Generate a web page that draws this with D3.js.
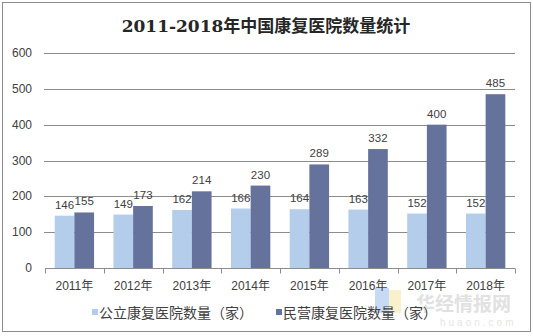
<!DOCTYPE html>
<html><head><meta charset="utf-8">
<script src="https://cdn.jsdelivr.net/npm/d3@7"></script>
<style>body{margin:0;background:#fff}svg{display:block}</style>
</head><body><svg id="c" width="533" height="336"></svg>
<script>
const title = "2011-2018年中国康复医院数量统计";
const categories = ["2011年","2012年","2013年","2014年","2015年","2016年","2017年","2018年"];
const seriesNames = ["公立康复医院数量（家）","民营康复医院数量（家）"];
const publicVals = [146,149,162,166,164,163,152,152];
const privateVals = [155,173,214,230,289,332,400,485];
const yTicks = [0,100,200,300,400,500,600];
const colors = ["#B3CDEB","#65729C"];

(function(){
const svg = d3.select("#c");
const pLeft = 45, pRight = 515, pTop = 53, pBottom = 268;
const txt = "#404040";
const sans = "Arial, 'Liberation Sans', 'Noto Sans CJK SC', sans-serif";

svg.append("rect").attr("x",2.5).attr("y",2.5).attr("width",528).attr("height",329)
  .attr("fill","#fff").attr("stroke","#8c8c8c").attr("stroke-width",1);

svg.append("text").attr("x",266).attr("y",32).attr("text-anchor","middle")
  .attr("font-family","'DejaVu Serif', 'Liberation Serif', 'Noto Sans CJK SC', serif")
  .attr("font-weight","bold").attr("font-size",17).attr("fill","#262626").text(title);

const y = d3.scaleLinear().domain([0,600]).range([pBottom,pTop]);
const x = d3.scaleBand().domain(categories).range([pLeft,pRight]).paddingInner(0.33).paddingOuter(0.165);
const xs = d3.scaleBand().domain([0,1]).range([0,x.bandwidth()]);

svg.append("g").selectAll("line").data(yTicks.filter(d=>d>0)).join("line")
  .attr("x1",pLeft-1).attr("x2",pRight).attr("y1",d=>Math.round(y(d))+0.5).attr("y2",d=>Math.round(y(d))+0.5)
  .attr("stroke","#8c8c8c").attr("stroke-width",1);

svg.append("g").selectAll("text").data(yTicks).join("text")
  .attr("x",32).attr("y",d=>y(d)+4).attr("text-anchor","end")
  .attr("font-family",sans).attr("font-size",12).attr("fill",txt).text(d=>d);

// watermark (drawn beneath chart text)
const wm = svg.append("g").attr("opacity",0.5);
wm.append("rect").attr("x",375).attr("y",288).attr("width",14).attr("height",25).attr("fill","#8fb6ee");
wm.append("rect").attr("x",389).attr("y",290).attr("width",12).attr("height",23).attr("fill","#f5e49a");
wm.append("text").attr("x",416).attr("y",311).attr("font-family","'Noto Sans CJK SC', sans-serif")
  .attr("font-weight","bold").attr("font-size",19).attr("fill","#c4c4c4").text("华经情报网");
svg.append("text").attr("x",440).attr("y",326).attr("font-family",sans).attr("font-size",10)
  .attr("letter-spacing",3).attr("fill","#e6e6e6").text("huaon.com");

const data = [publicVals, privateVals];
data.forEach((vals,si)=>{
  const g = svg.append("g");
  g.selectAll("rect").data(vals).join("rect")
    .attr("x",(d,i)=>x(categories[i])+xs(si)).attr("width",xs.bandwidth())
    .attr("y",d=>y(d)).attr("height",d=>pBottom-y(d)).attr("fill",colors[si]);
  g.selectAll("text").data(vals).join("text")
    .attr("x",(d,i)=>x(categories[i])+xs(si)+xs.bandwidth()/2).attr("y",d=>y(d)-7)
    .attr("text-anchor","middle").attr("font-family",sans).attr("font-size",11.5).attr("fill",txt).text(d=>d);
});

const ax = svg.append("g").attr("transform",`translate(0,${pBottom+0.5})`);
ax.append("line").attr("x1",pLeft).attr("x2",pRight).attr("stroke","#8c8c8c");
const step = x.step();
const bounds = d3.range(categories.length+1).map(i=>x(categories[0]) - x.paddingInner()*step/2 + i*step);
ax.selectAll("line.t").data(bounds).join("line").attr("class","t")
  .attr("x1",d=>Math.round(d)+0.5).attr("x2",d=>Math.round(d)+0.5).attr("y1",0).attr("y2",5).attr("stroke","#8c8c8c");
ax.selectAll("text.l").data(categories).join("text").attr("class","l")
  .attr("x",d=>x(d)+x.bandwidth()/2).attr("y",21).attr("text-anchor","middle")
  .attr("font-family",sans).attr("font-size",12).attr("fill",txt).text(d=>d);

const legendX = [92, 276];
seriesNames.forEach((n,i)=>{
  svg.append("rect").attr("x",legendX[i]).attr("y",309).attr("width",6).attr("height",6).attr("fill",colors[i]);
  svg.append("text").attr("x",legendX[i]+7).attr("y",318).attr("font-family","'Noto Sans CJK SC', sans-serif")
    .attr("font-size",14).attr("fill",txt).text(n);
});
})();
</script></body></html>
